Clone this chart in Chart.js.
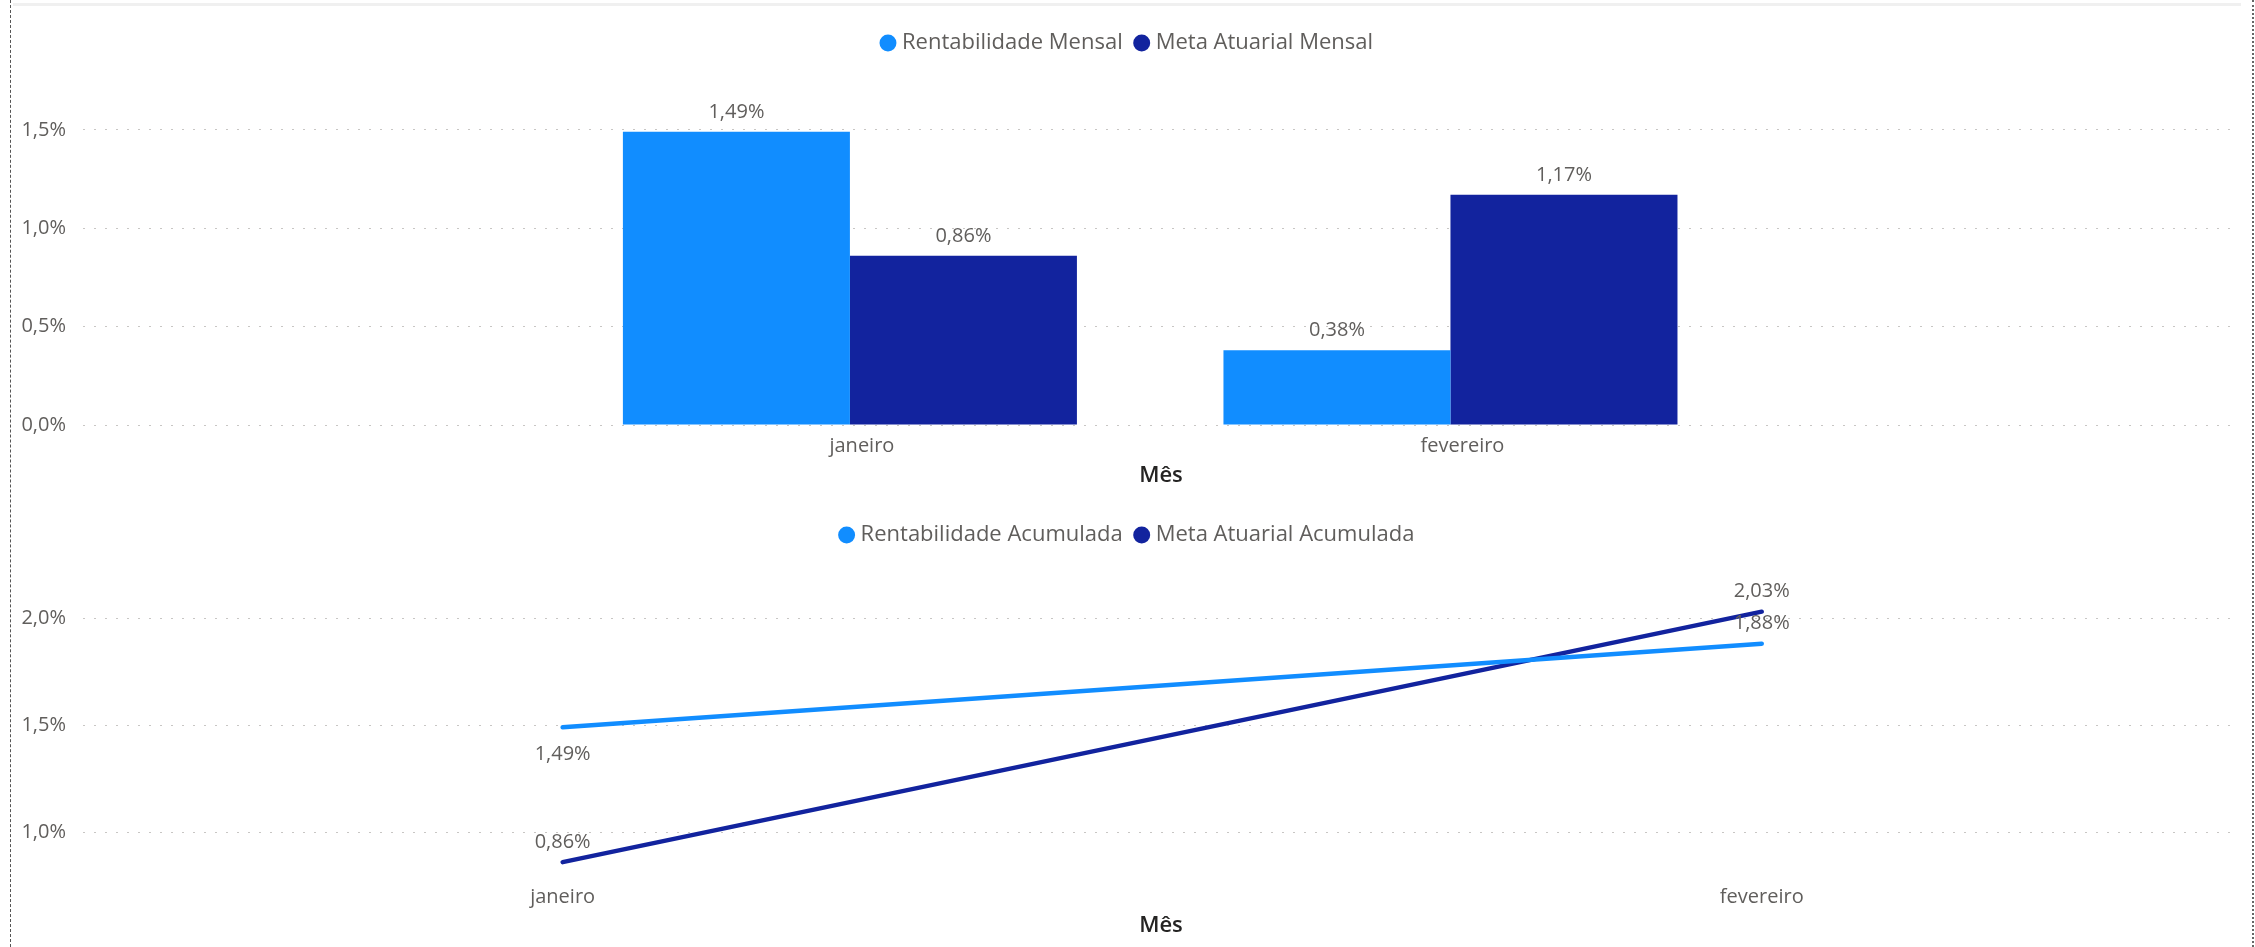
<!DOCTYPE html>
<html lang="pt-BR">
<head>
<meta charset="utf-8">
<title>Rentabilidade x Meta Atuarial</title>
<script src="https://cdn.jsdelivr.net/npm/chart.js@4.4.1/dist/chart.umd.min.js"></script>
<style>
  html, body { margin: 0; padding: 0; background: #fff; }
  #frame {
    position: absolute; left: 10px; top: 0; width: 2244px; height: 947px;
    box-sizing: border-box; border-left: 1px dashed #555; border-right: 2px dotted #666;
  }
  #topline { position: absolute; left: 2px; top: 3px; width: 2228px; height: 3px; background: #f0f0f0; }
  #chart1, #chart2 { position: absolute; left: 0; }
  #chart1 { top: 0; }
  #chart2 { top: 500px; }
</style>
</head>
<body>
<div id="frame">
  <canvas id="chart1" width="2241" height="500"></canvas>
  <canvas id="chart2" width="2241" height="447"></canvas>
  <div id="topline"></div>
</div>
<script>
// data
const months = ['janeiro', 'fevereiro'];
const rentMensal = [1.49, 0.38];
const metaMensal = [0.86, 1.17];
const rentAcumulada = [1.49, 1.88];
const metaAcumulada = [0.86, 2.03];

const LIGHT = '#118DFF';
const DARK = '#12239E';
const TEXT = '#605E5C';
const FONT = "'Segoe UI', 'Open Sans', sans-serif";

Chart.defaults.font.family = FONT;
Chart.defaults.color = TEXT;
Chart.defaults.animation = false;

function points(values) {
    return values.map((v, i) => ({x: i, y: v}));
}

function pct(v, digits) {
    return v.toFixed(digits).replace('.', ',') + '%';
}

// labels over bars / next to line ends (no datalabels plugin offline)
const valueLabels = {
    id: 'valueLabels',
    afterDatasetsDraw(chart) {
        const ctx = chart.ctx;
        ctx.save();
        ctx.font = '20px ' + FONT;
        ctx.fillStyle = TEXT;
        ctx.textAlign = 'center';
        ctx.textBaseline = 'middle';
        chart.data.datasets.forEach((ds, i) => {
            let meta = chart.getDatasetMeta(i);
            meta.data.forEach((el, j) => {
                let below = ds.labelSide && ds.labelSide[j] === 'below';
                let y = below ? el.y + 27 : el.y - 20;
                ctx.fillText(pct(ds.data[j].y, 2), el.x, y);
            });
        });
        ctx.restore();
    }
};

const legendOpts = {
    position: 'top',
    labels: {
        usePointStyle: true,
        pointStyle: 'circle',
        boxWidth: 6,
        boxHeight: 12,
        padding: 16,
        color: TEXT,
        font: {size: 22},
        generateLabels: chart => Chart.defaults.plugins.legend.labels.generateLabels(chart)
            .map(l => Object.assign(l, {lineWidth: 0}))
    }
};

function yAxis(min, max) {
    return {
        min: min,
        max: max,
        border: {display: false, dash: [2, 9]},
        grid: {color: '#c8c6c4', lineWidth: 1, drawTicks: false},
        ticks: {stepSize: 0.5, padding: 17, font: {size: 20}, callback: v => pct(v, 1)},
        afterBuildTicks: scale => {
            scale.ticks = scale.ticks.filter(t => Math.abs(t.value * 2 - Math.round(t.value * 2)) < 1e-6);
        },
        afterFit: scale => { scale.width = 64; }
    };
}

function xAxis(min, max, height, labelOffset, titlePad) {
    return {
        type: 'linear',
        min: min,
        max: max,
        offset: false,
        border: {display: false},
        grid: {display: false, drawTicks: false},
        ticks: {
            padding: 9,
            labelOffset: labelOffset,
            font: {size: 20},
            callback: v => months[v]
        },
        title: {
            display: true,
            text: 'Mês',
            color: '#252423',
            font: {size: 22, weight: '600'},
            padding: {top: 0, bottom: titlePad}
        },
        afterBuildTicks: scale => {
            scale.ticks = months.map((m, i) => ({value: i}));
        },
        afterFit: scale => { scale.height = height; }
    };
}

new Chart(document.getElementById('chart1'), {
    type: 'bar',
    data: {
        datasets: [{
            label: 'Rentabilidade Mensal',
            data: points(rentMensal),
            backgroundColor: LIGHT,
            borderWidth: 0,
            barPercentage: 1,
            categoryPercentage: 0.756
        }, {
            label: 'Meta Atuarial Mensal',
            data: points(metaMensal),
            backgroundColor: DARK,
            borderWidth: 0,
            barPercentage: 1,
            categoryPercentage: 0.756
        }]
    },
    options: {
        responsive: false,
        layout: {padding: {left: 8, right: 13, top: 16, bottom: 0}},
        plugins: {legend: legendOpts, tooltip: {enabled: false}},
        scales: {
            x: xAxis(-1.277, 2.313, 75, 12, 10.8),
            y: yAxis(0, 1.835)
        }
    },
    plugins: [valueLabels]
});

const x2 = xAxis(-0.4, 1.398, 72, 0, 7.8);
x2.ticks.padding = 10;

new Chart(document.getElementById('chart2'), {
    type: 'line',
    data: {
        datasets: [{
            label: 'Rentabilidade Acumulada',
            data: points(rentAcumulada),
            borderColor: LIGHT,
            backgroundColor: LIGHT,
            borderWidth: 4.5,
            borderCapStyle: 'round',
            pointRadius: 0,
            tension: 0,
            labelSide: ['below', 'above']
        }, {
            label: 'Meta Atuarial Acumulada',
            data: points(metaAcumulada),
            borderColor: DARK,
            backgroundColor: DARK,
            borderWidth: 4.5,
            borderCapStyle: 'round',
            pointRadius: 0,
            tension: 0,
            labelSide: ['above', 'above']
        }]
    },
    options: {
        responsive: false,
        layout: {padding: {left: 8, right: 13, top: 8, bottom: 0}},
        plugins: {legend: legendOpts, tooltip: {enabled: false}},
        scales: {
            x: x2,
            y: yAxis(0.8, 2.29)
        }
    },
    plugins: [valueLabels]
});
</script>
</body>
</html>
